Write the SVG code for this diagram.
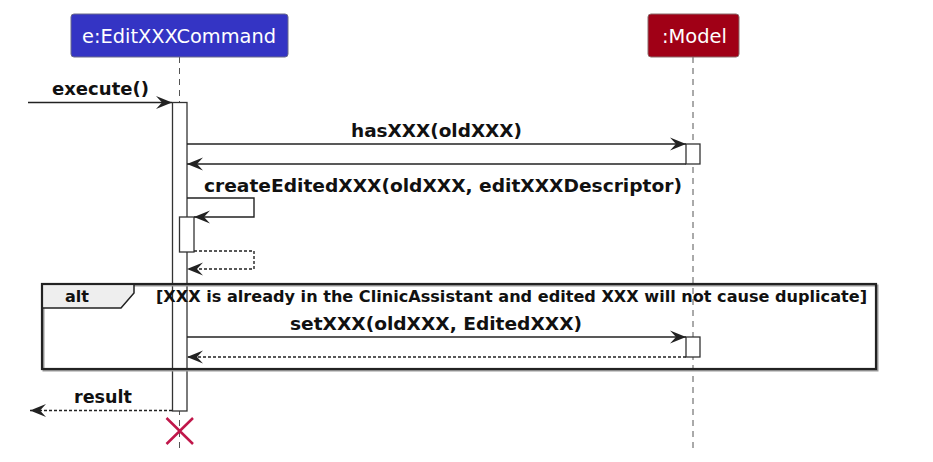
<svg xmlns="http://www.w3.org/2000/svg" width="933" height="462" viewBox="0 0 933 462">
<defs>
<style>
.lbl{font-family:"DejaVu Sans",sans-serif;font-weight:bold;font-size:18px;fill:#111}
.cond{font-family:"DejaVu Sans",sans-serif;font-weight:bold;font-size:16px;fill:#111}
.pt{font-family:"DejaVu Sans",sans-serif;font-size:19px;fill:#fff}
.life{stroke:#555;stroke-width:1;stroke-dasharray:6 5;fill:none}
.act{fill:#fff;stroke:#333;stroke-width:1.3}
.msg{fill:none;stroke:#222;stroke-width:1.4}
.ret{stroke-dasharray:3 2}
</style>
<marker id="ah" markerUnits="userSpaceOnUse" markerWidth="20" markerHeight="16" viewBox="-18 -8 19 16" refX="0" refY="0" orient="auto">
<path d="M0,0 L-16,-6.5 L-10,0 L-16,6.5 Z" fill="#222"/>
</marker>
</defs>
<rect width="933" height="462" fill="#fff"/>

<g id="lifelines">
<line class="life" x1="179.5" y1="57" x2="179.5" y2="452"/>
<line class="life" x1="693" y1="57" x2="693" y2="452"/>
</g>

<g id="participant-command">
<rect x="71" y="14" width="217" height="43" rx="3" fill="#3434C4" stroke="#6a6a8a" stroke-width="1"/>
<text class="pt" x="82" y="42.5" textLength="194" lengthAdjust="spacingAndGlyphs">e:EditXXXCommand</text>
</g>
<g id="participant-model">
<rect x="648" y="14" width="91" height="43" rx="3" fill="#A00016" stroke="#8a6a6a" stroke-width="1"/>
<text class="pt" x="662" y="42.5" textLength="65" lengthAdjust="spacingAndGlyphs">:Model</text>
</g>

<g id="activations">
<rect class="act" x="172.5" y="102.5" width="14.5" height="308.5"/>
<rect class="act" x="179.5" y="217" width="14.5" height="35"/>
<rect class="act" x="686" y="144" width="14" height="20"/>
<rect class="act" x="686" y="337" width="14" height="20"/>
</g>

<g id="frame-alt">
<rect x="43.5" y="285.5" width="834" height="85" fill="none" stroke="#999" stroke-width="2"/>
<path d="M42,284 H134 V293 L121,308 H42 Z" fill="#EEEEEE" stroke="#222" stroke-width="1.5"/>
<rect x="42" y="284" width="834" height="85" fill="none" stroke="#222" stroke-width="2.2"/>
<text class="cond" x="65" y="302" textLength="24" lengthAdjust="spacingAndGlyphs">alt</text>
<text class="cond" x="156" y="302" textLength="711" lengthAdjust="spacingAndGlyphs">[XXX is already in the ClinicAssistant and edited XXX will not cause duplicate]</text>
</g>

<g id="connectors">
<line class="msg" x1="28" y1="102.5" x2="172" y2="102.5" marker-end="url(#ah)"/>
<line class="msg" x1="187" y1="144" x2="686" y2="144" marker-end="url(#ah)"/>
<line class="msg" x1="686" y1="164" x2="187" y2="164" marker-end="url(#ah)"/>
<polyline class="msg" points="187,198 254,198 254,217 194,217" marker-end="url(#ah)"/>
<polyline class="msg ret" points="194,251 254,251 254,269 187,269" marker-end="url(#ah)"/>
<line class="msg" x1="187" y1="337" x2="686" y2="337" marker-end="url(#ah)"/>
<line class="msg ret" x1="686" y1="357" x2="187" y2="357" marker-end="url(#ah)"/>
<line class="msg ret" x1="172" y1="410.5" x2="30" y2="410.5" marker-end="url(#ah)"/>
</g>

<g id="labels">
<text class="lbl" x="52" y="95" textLength="97" lengthAdjust="spacingAndGlyphs">execute()</text>
<text class="lbl" x="351" y="137" textLength="171" lengthAdjust="spacingAndGlyphs">hasXXX(oldXXX)</text>
<text class="lbl" x="204" y="192" textLength="478" lengthAdjust="spacingAndGlyphs">createEditedXXX(oldXXX, editXXXDescriptor)</text>
<text class="lbl" x="290" y="330" textLength="292" lengthAdjust="spacingAndGlyphs">setXXX(oldXXX, EditedXXX)</text>
<text class="lbl" x="74" y="403" textLength="58" lengthAdjust="spacingAndGlyphs">result</text>
</g>

<g id="destroy">
<path d="M166.5,418 L193,444 M193,418 L166.5,444" stroke="#C0174A" stroke-width="2.5" fill="none"/>
</g>
</svg>
